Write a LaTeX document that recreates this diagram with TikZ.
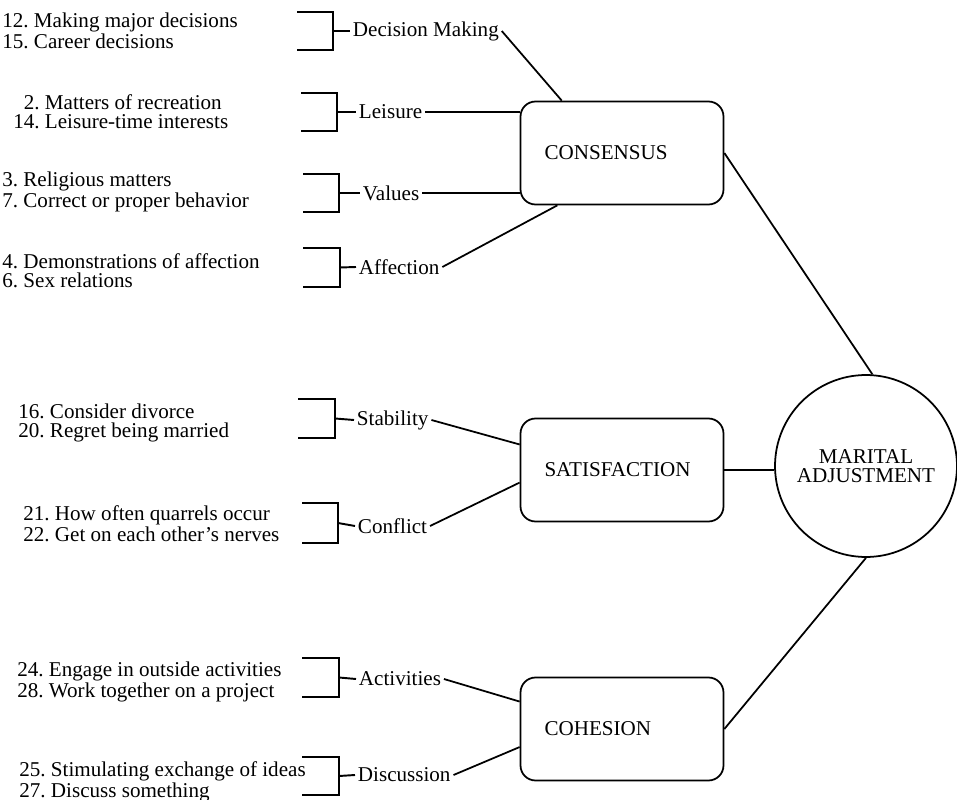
\documentclass[tikz,border=0pt]{standalone}
\usepackage{fontspec}
\setmainfont{Liberation Serif}
\usetikzlibrary{calc}
\frenchspacing
\def\bracket(#1,#2,#3,#4)(#5){\draw[line width=1.1pt] (#1,#2) -- (#3,#2) -- (#3,#4) -- (#1,#4); \draw[line width=1.1pt] (#3,{(#2+#4)/2}) -- (#5.west);}
\tikzset{
	item/.style={anchor=west, align=left, inner sep=0pt, font=\fontsize{12}{10.8}\selectfont},
	lbl/.style={anchor=west, inner sep=1.5pt, font=\fontsize{12}{14}\selectfont},
	factor/.style={draw, line width=1pt, rounded corners=0.3cm, minimum height=2.06cm, text width=3.1cm, inner xsep=0.48cm, align=left, font=\fontsize{12}{14}\selectfont},
	whole/.style={draw, circle, line width=1pt, minimum size=3.64cm, inner sep=0pt, align=center, font=\fontsize{12}{10.5}\selectfont},
	link/.style={line width=1pt}
}
\begin{document}
\begin{tikzpicture}[x=0.02cm, y=-0.02cm]
	%%%%% START %%%%%
	\useasboundingbox (0,0) rectangle (957,800);
	
	\node[factor] (cons) at (622,153) {CONSENSUS};
	\node[factor] (sat) at (622,470) {SATISFACTION};
	\node[factor] (coh) at (622,729) {COHESION};
	\node[whole] (mar) at (866,466) {MARITAL\\ADJUSTMENT};
	
	\node[item] (i1) at (2,31) {12. Making major decisions\\15. Career decisions};
	\node[item] (i2) at (13,112) {\phantom{1}2. Matters of recreation\\14. Leisure-time interests};
	\node[item] (i3) at (2,192) {3. Religious matters\\7. Correct or proper behavior};
	\node[item] (i4) at (2,271) {4. Demonstrations of affection\\6. Sex relations};
	\node[item] (i5) at (18,423) {16. Consider divorce\\20. Regret being married};
	\node[item] (i6) at (23,524) {21. How often quarrels occur\\22. Get on each other's nerves};
	\node[item] (i7) at (17,682) {24. Engage in outside activities\\28. Work together on a project};
	\node[item] (i8) at (19,782) {25. Stimulating exchange of ideas\\27. Discuss something};
	
	\node[lbl] (dec) at (350,31) {Decision Making};
	\node[lbl] (leis) at (356,112) {Leisure};
	\node[lbl] (val) at (360,193) {Values};
	\node[lbl] (aff) at (356,267) {Affection};
	\node[lbl] (stab) at (354,420) {Stability};
	\node[lbl] (conf) at (355,526) {Conflict};
	\node[lbl] (act) at (356,679) {Activities};
	\node[lbl] (disc) at (355,775) {Discussion};
	
	\bracket(297,12,333,50)(dec)
	\bracket(301,93,337,131)(leis)
	\bracket(303,174,339,212)(val)
	\bracket(303,248,340,287)(aff)
	\bracket(298,399,335,438)(stab)
	\bracket(302,503,338,543)(conf)
	\bracket(302,658,339,697)(act)
	\bracket(302,757,339,795)(disc)
	
	\draw[link] (dec.east) -- (cons.139);
	\draw[link] (leis.east) -- (leis.east -| cons.west);
	\draw[link] (val.east) -- (val.east -| cons.west);
	\draw[link] (aff.east) -- (cons.219);
	
	\draw[link] (stab.east) -- (sat.166);
	\draw[link] (conf.east) -- (sat.187);
	
	\draw[link] (act.east) -- (coh.165);
	\draw[link] (disc.east) -- (coh.190);
	
	\draw[link] (cons.east) -- (mar.86);
	\draw[link] (sat.east) -- (sat.east -| mar.west);
	\draw[link] (coh.east) -- (mar.south);
	
	%%%%% END %%%%%
\end{tikzpicture}
\end{document}
